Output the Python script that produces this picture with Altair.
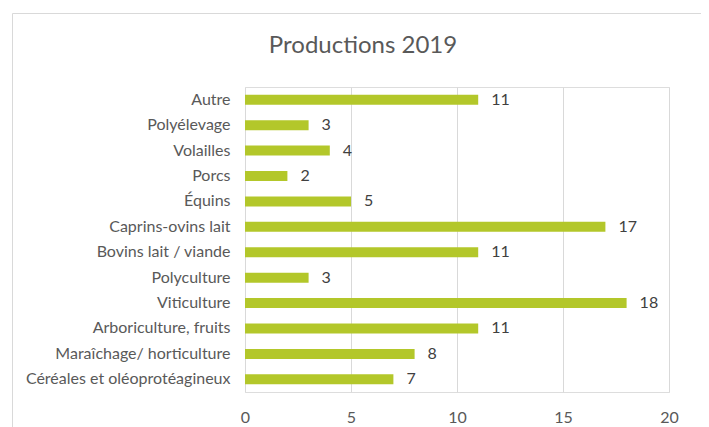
import altair as alt
import pandas as pd

categories = [
    "Autre ",
    "Polyélevage ",
    "Volailles",
    "Porcs",
    "Équins",
    "Caprins-ovins lait",
    "Bovins lait / viande ",
    "Polyculture",
    "Viticulture",
    "Arboriculture, fruits",
    "Maraîchage/ horticulture ",
    "Céréales et oléoprotéagineux",
]
values = [11, 3, 4, 2, 5, 17, 11, 3, 18, 11, 8, 7]
x_ticks = [0, 5, 10, 15, 20]
title_text = "Productions 2019"

df = pd.DataFrame({"cat": categories, "val": values})

FONT = "Lato"
BAR = "#b3c72a"

y_enc = alt.Y(
    "cat:N",
    sort=categories,
    title=None,
    scale=alt.Scale(paddingInner=0, paddingOuter=0),
    axis=alt.Axis(
        ticks=False,
        domain=False,
        grid=False,
        labelPadding=15,
        labelFont=FONT,
        labelFontSize=16,
        labelColor="#595959",
        labelLimit=400,
    ),
)
x_enc = alt.X(
    "val:Q",
    title=None,
    scale=alt.Scale(domain=[0, 20], nice=False),
    axis=alt.Axis(
        values=x_ticks,
        ticks=False,
        domain=False,
        grid=True,
        gridColor="#d9d9d9",
        gridWidth=1,
        labelFlush=False,
        labelPadding=17,
        labelFont=FONT,
        labelFontSize=16,
        labelColor="#595959",
    ),
)

bars = alt.Chart(df).mark_bar(color=BAR, size=10).encode(x=x_enc, y=y_enc)

labels = alt.Chart(df).mark_text(
    align="left", baseline="middle", dx=13, font=FONT, fontSize=16, color="#404040"
).encode(x="val:Q", y=alt.Y("cat:N", sort=categories), text="val:Q")

one = pd.DataFrame({"t": [title_text]})

border = alt.Chart(one).mark_rect(
    fill=None, stroke="#d9d9d9", strokeWidth=1
).encode(
    x=alt.value(-232.5), x2=alt.value(500), y=alt.value(-73.5), y2=alt.value(400)
)

title = alt.Chart(one).mark_text(
    font=FONT, fontSize=24, color="#595959", align="center", baseline="middle"
).encode(x=alt.value(118), y=alt.value(-41), text="t:N")

chart = alt.layer(border, bars, labels, title).properties(
    width=424,
    height=305,
    autosize=alt.AutoSizeParams(type="none"),
    padding={"left": 237, "top": 79, "right": 32, "bottom": 35},
).configure_view(stroke=None).configure(background="white")

chart.save("out.html", embed_options={"renderer": "svg", "actions": False})
